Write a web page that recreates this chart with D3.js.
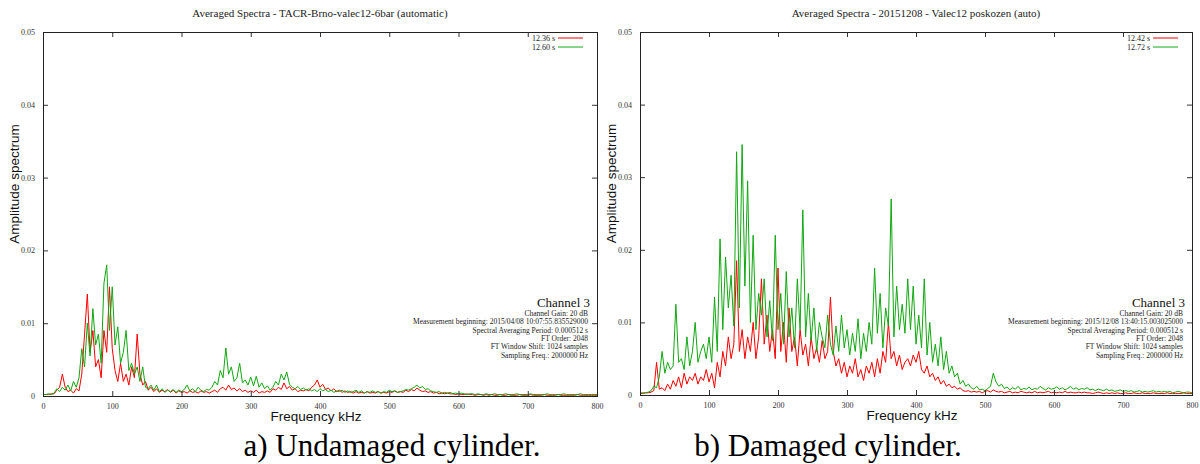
<!DOCTYPE html>
<html>
<head>
<meta charset="utf-8">
<script src="https://cdn.jsdelivr.net/npm/d3@7/dist/d3.min.js"></script>
<style>
  html, body { margin: 0; padding: 0; background: #fff; }
  svg { display: block; }
</style>
</head>
<body>
<svg id="chart" width="1200" height="464"></svg>
<script>
// ---------- DATA (frequency bins every 4 kHz, 0..800 kHz) ----------
const freqStepKHz = 4;
const freqMaxKHz = 800;
const xTicks = [0, 100, 200, 300, 400, 500, 600, 700, 800];
const yTicks = [0, 0.01, 0.02, 0.03, 0.04, 0.05];
const yTickLabels = ["0", "0.01", "0.02", "0.03", "0.04", "0.05"];

const titleA = "Averaged Spectra - TACR-Brno-valec12-6bar (automatic)";
const titleB = "Averaged Spectra - 20151208 - Valec12 poskozen (auto)";
const legendA = ["12.36 s", "12.60 s"];
const legendB = ["12.42 s", "12.72 s"];
const infoA = ["Channel Gain: 20 dB", "Measurement beginning: 2015/04/08 10:07:55.835529000",
  "Spectral Averaging Period: 0.000512 s", "FT Order: 2048", "FT Window Shift: 1024 samples",
  "Sampling Freq.: 2000000 Hz"];
const infoB = ["Channel Gain: 20 dB", "Measurement beginning: 2015/12/08 13:40:15.003025000",
  "Spectral Averaging Period: 0.000512 s", "FT Order: 2048", "FT Window Shift: 1024 samples",
  "Sampling Freq.: 2000000 Hz"];
const captions = ["a) Undamaged cylinder.", "b) Damaged cylinder."];

// a) undamaged, 12.36 s (red)
const undamagedRed = [
0.0002,0.0002,0.0002,0.0003,0.0003,0.0008,0.0012,0.0030,0.0012,0.0006,
0.0008,0.0004,0.0010,0.0007,0.0030,0.0085,0.0140,0.0060,0.0090,0.0040,
0.0050,0.0025,0.0090,0.0060,0.0150,0.0065,0.0035,0.0020,0.0045,0.0020,
0.0030,0.0015,0.0040,0.0025,0.0085,0.0030,0.0015,0.0020,0.0008,0.0012,
0.0006,0.0010,0.0005,0.0008,0.0006,0.0009,0.0005,0.0008,0.0004,0.0007,
0.0005,0.0006,0.0004,0.0007,0.0005,0.0006,0.0004,0.0007,0.0005,0.0006,
0.0004,0.0006,0.0008,0.0005,0.0010,0.0012,0.0008,0.0015,0.0009,0.0011,
0.0007,0.0010,0.0006,0.0008,0.0005,0.0007,0.0005,0.0008,0.0004,0.0006,
0.0005,0.0007,0.0005,0.0010,0.0008,0.0012,0.0009,0.0018,0.0010,0.0013,
0.0008,0.0010,0.0006,0.0008,0.0007,0.0009,0.0007,0.0012,0.0015,0.0022,
0.0012,0.0016,0.0009,0.0011,0.0007,0.0010,0.0006,0.0008,0.0005,0.0007,
0.0005,0.0006,0.0004,0.0006,0.0004,0.0005,0.0004,0.0006,0.0004,0.0005,
0.0004,0.0006,0.0004,0.0005,0.0004,0.0006,0.0005,0.0007,0.0005,0.0006,
0.0005,0.0008,0.0006,0.0009,0.0007,0.0011,0.0008,0.0006,0.0007,0.0005,
0.0006,0.0004,0.0005,0.0003,0.0004,0.0003,0.0004,0.0003,0.0003,0.0002,
0.0003,0.0002,0.0002,0.0003,0.0002,0.0002,0.0001,0.0002,0.0002,0.0001,
0.0002,0.0001,0.0002,0.0001,0.0001,0.0002,0.0001,0.0001,0.0002,0.0001,
0.0001,0.0001,0.0002,0.0001,0.0001,0.0001,0.0002,0.0001,0.0001,0.0001,
0.0001,0.0002,0.0001,0.0001,0.0001,0.0001,0.0002,0.0001,0.0001,0.0001,
0.0001,0.0001,0.0001,0.0002,0.0001,0.0001,0.0001,0.0001,0.0001,0.0001,
0.0001];

// a) undamaged, 12.60 s (green)
const undamagedGreen = [
0.0002,0.0002,0.0003,0.0002,0.0004,0.0010,0.0006,0.0012,0.0008,0.0015,
0.0007,0.0020,0.0012,0.0025,0.0065,0.0040,0.0100,0.0055,0.0120,0.0070,
0.0085,0.0045,0.0155,0.0180,0.0090,0.0150,0.0070,0.0095,0.0045,0.0060,
0.0090,0.0035,0.0045,0.0030,0.0040,0.0020,0.0040,0.0012,0.0010,0.0015,
0.0008,0.0015,0.0006,0.0010,0.0005,0.0008,0.0006,0.0009,0.0005,0.0008,
0.0006,0.0009,0.0015,0.0007,0.0010,0.0006,0.0012,0.0008,0.0006,0.0009,
0.0008,0.0012,0.0020,0.0015,0.0035,0.0025,0.0066,0.0030,0.0040,0.0020,
0.0025,0.0045,0.0018,0.0022,0.0015,0.0026,0.0014,0.0027,0.0012,0.0018,
0.0010,0.0014,0.0008,0.0012,0.0020,0.0015,0.0030,0.0022,0.0033,0.0016,
0.0012,0.0010,0.0013,0.0009,0.0011,0.0008,0.0010,0.0007,0.0009,0.0006,
0.0010,0.0007,0.0009,0.0006,0.0008,0.0005,0.0007,0.0006,0.0008,0.0005,
0.0007,0.0005,0.0006,0.0008,0.0005,0.0007,0.0004,0.0006,0.0005,0.0007,
0.0005,0.0006,0.0004,0.0006,0.0005,0.0008,0.0006,0.0007,0.0005,0.0006,
0.0007,0.0009,0.0008,0.0010,0.0012,0.0015,0.0011,0.0013,0.0009,0.0010,
0.0007,0.0006,0.0005,0.0006,0.0004,0.0005,0.0004,0.0005,0.0003,0.0004,
0.0003,0.0004,0.0003,0.0002,0.0003,0.0003,0.0002,0.0003,0.0002,0.0002,
0.0003,0.0002,0.0002,0.0003,0.0002,0.0002,0.0002,0.0003,0.0002,0.0002,
0.0002,0.0003,0.0002,0.0002,0.0002,0.0002,0.0003,0.0002,0.0002,0.0002,
0.0002,0.0002,0.0003,0.0002,0.0002,0.0002,0.0002,0.0002,0.0003,0.0002,
0.0002,0.0002,0.0002,0.0002,0.0003,0.0002,0.0002,0.0002,0.0002,0.0002,
0.0002];

// b) damaged, 12.42 s (red)
const damagedRed = [
0.0002,0.0002,0.0003,0.0003,0.0004,0.0006,0.0045,0.0008,0.0010,0.0006,
0.0015,0.0008,0.0020,0.0012,0.0025,0.0010,0.0030,0.0015,0.0025,0.0020,
0.0030,0.0015,0.0025,0.0020,0.0035,0.0018,0.0030,0.0010,0.0045,0.0025,
0.0060,0.0040,0.0080,0.0050,0.0070,0.0185,0.0060,0.0090,0.0050,0.0080,
0.0060,0.0100,0.0050,0.0080,0.0160,0.0070,0.0110,0.0060,0.0090,0.0050,
0.0175,0.0060,0.0100,0.0045,0.0120,0.0060,0.0080,0.0040,0.0090,0.0055,
0.0070,0.0040,0.0080,0.0050,0.0065,0.0045,0.0075,0.0050,0.0060,0.0135,
0.0060,0.0040,0.0050,0.0030,0.0045,0.0025,0.0040,0.0030,0.0050,0.0025,
0.0035,0.0020,0.0040,0.0030,0.0045,0.0025,0.0050,0.0030,0.0060,0.0045,
0.0100,0.0050,0.0060,0.0040,0.0055,0.0035,0.0045,0.0050,0.0040,0.0055,
0.0045,0.0060,0.0035,0.0030,0.0040,0.0025,0.0030,0.0020,0.0025,0.0015,
0.0020,0.0012,0.0015,0.0010,0.0012,0.0008,0.0010,0.0006,0.0005,0.0006,
0.0004,0.0005,0.0004,0.0005,0.0003,0.0005,0.0006,0.0004,0.0007,0.0005,
0.0004,0.0005,0.0003,0.0004,0.0005,0.0003,0.0004,0.0003,0.0005,0.0004,
0.0003,0.0004,0.0003,0.0005,0.0003,0.0004,0.0003,0.0004,0.0005,0.0003,
0.0004,0.0003,0.0004,0.0003,0.0005,0.0003,0.0004,0.0003,0.0003,0.0004,
0.0003,0.0004,0.0003,0.0003,0.0002,0.0003,0.0004,0.0003,0.0002,0.0003,
0.0002,0.0003,0.0002,0.0003,0.0002,0.0002,0.0003,0.0002,0.0002,0.0003,
0.0002,0.0002,0.0003,0.0002,0.0002,0.0002,0.0003,0.0002,0.0002,0.0002,
0.0002,0.0003,0.0002,0.0002,0.0002,0.0002,0.0002,0.0003,0.0002,0.0002,
0.0002];

// b) damaged, 12.72 s (green)
const damagedGreen = [
0.0003,0.0003,0.0003,0.0004,0.0006,0.0012,0.0010,0.0025,0.0060,0.0030,
0.0045,0.0035,0.0040,0.0125,0.0045,0.0050,0.0035,0.0080,0.0040,0.0060,
0.0100,0.0045,0.0060,0.0070,0.0050,0.0080,0.0045,0.0135,0.0060,0.0215,
0.0090,0.0190,0.0120,0.0165,0.0095,0.0335,0.0120,0.0345,0.0150,0.0295,
0.0100,0.0220,0.0090,0.0140,0.0110,0.0160,0.0080,0.0130,0.0075,0.0220,
0.0090,0.0140,0.0070,0.0170,0.0080,0.0120,0.0065,0.0160,0.0090,0.0255,
0.0080,0.0140,0.0075,0.0120,0.0060,0.0100,0.0080,0.0065,0.0110,0.0070,
0.0055,0.0095,0.0060,0.0110,0.0065,0.0090,0.0055,0.0085,0.0060,0.0105,
0.0050,0.0085,0.0060,0.0100,0.0070,0.0175,0.0085,0.0140,0.0065,0.0120,
0.0095,0.0270,0.0080,0.0150,0.0090,0.0125,0.0085,0.0160,0.0090,0.0150,
0.0070,0.0110,0.0065,0.0160,0.0055,0.0100,0.0045,0.0070,0.0040,0.0080,
0.0035,0.0060,0.0030,0.0040,0.0025,0.0030,0.0015,0.0020,0.0012,0.0015,
0.0010,0.0008,0.0012,0.0007,0.0008,0.0006,0.0009,0.0012,0.0030,0.0018,
0.0012,0.0015,0.0009,0.0011,0.0007,0.0010,0.0008,0.0012,0.0007,0.0009,
0.0008,0.0011,0.0007,0.0009,0.0008,0.0012,0.0009,0.0007,0.0010,0.0008,
0.0009,0.0011,0.0008,0.0010,0.0007,0.0009,0.0012,0.0008,0.0010,0.0007,
0.0009,0.0008,0.0010,0.0007,0.0008,0.0006,0.0008,0.0007,0.0006,0.0008,
0.0006,0.0007,0.0005,0.0006,0.0007,0.0005,0.0006,0.0005,0.0006,0.0004,
0.0005,0.0006,0.0004,0.0005,0.0004,0.0005,0.0006,0.0004,0.0005,0.0004,
0.0005,0.0004,0.0005,0.0003,0.0004,0.0005,0.0004,0.0003,0.0004,0.0004,
0.0003];

// ---------- DRAWING ----------
const svg = d3.select("#chart");
const SERIF = "'Liberation Serif', 'Times New Roman', serif";
const SANS = "'Liberation Sans', Arial, sans-serif";
const RED = "#ff0000";
const GREEN = "#10a810";

function drawPanel(p) {
  const g = svg.append("g");
  const x = d3.scaleLinear().domain([0, freqMaxKHz]).range([p.left, p.right]);
  const y = d3.scaleLinear().domain([0, 0.05]).range([p.bottom, p.top]);

  // title
  g.append("text").attr("x", (p.left + p.right) / 2).attr("y", 17)
    .attr("text-anchor", "middle").style("font-family", SERIF).style("font-size", "11px")
    .attr("fill", "#222").text(p.title);

  // series
  const line = d3.line().x((d, i) => x(i * freqStepKHz)).y(d => y(d));
  const clipId = "clip" + p.id;
  g.append("clipPath").attr("id", clipId).append("rect")
    .attr("x", p.left).attr("y", p.top).attr("width", p.right - p.left).attr("height", p.bottom - p.top);
  [[p.red, RED], [p.green, GREEN]].forEach(([data, col]) => {
    g.append("path").datum(data).attr("d", line).attr("fill", "none")
      .attr("stroke", col).attr("stroke-width", 1).attr("stroke-linejoin", "round")
      .attr("clip-path", `url(#${clipId})`);
  });

  // axes with inward ticks (mirrored)
  const tk = 5;
  const axB = d3.axisBottom(x).tickValues(xTicks).tickSize(-tk).tickPadding(7).tickFormat(d3.format("d"));
  const axT = d3.axisTop(x).tickValues(xTicks).tickSize(-tk).tickFormat("");
  const axL = d3.axisLeft(y).tickValues(yTicks).tickSize(-tk).tickPadding(8)
    .tickFormat((d, i) => yTickLabels[i]);
  const axR = d3.axisRight(y).tickValues(yTicks).tickSize(-tk).tickFormat("");
  const axes = [
    g.append("g").attr("transform", `translate(0,${p.bottom})`).call(axB),
    g.append("g").attr("transform", `translate(0,${p.top})`).call(axT),
    g.append("g").attr("transform", `translate(${p.left},0)`).call(axL),
    g.append("g").attr("transform", `translate(${p.right},0)`).call(axR)
  ];
  axes.forEach(a => {
    a.select(".domain").remove();
    a.selectAll(".tick line").attr("stroke", "#333");
    a.selectAll("text").style("font-family", SERIF).style("font-size", "8px").attr("fill", "#333");
  });

  // frame
  g.append("rect").attr("x", p.left + 0.5).attr("y", p.top + 0.5)
    .attr("width", p.right - p.left).attr("height", p.bottom - p.top)
    .attr("fill", "none").attr("stroke", "#222").attr("stroke-width", 1);

  // axis labels
  g.append("text").attr("x", (p.left + p.right) / 2 - 4).attr("y", p.bottom + 25)
    .attr("text-anchor", "middle").style("font-family", SANS).style("font-size", "13.5px")
    .attr("fill", "#111").text("Frequency kHz");
  g.append("text").attr("transform", `translate(${p.left - 24},${(p.top + p.bottom) / 2 - 30}) rotate(-90)`)
    .attr("text-anchor", "middle").style("font-family", SANS).style("font-size", "13.5px")
    .attr("fill", "#111").text("Amplitude spectrum");

  // legend
  p.legend.forEach((lab, i) => {
    const ly = p.top + 6 + i * 9;
    g.append("text").attr("x", p.right - 42).attr("y", ly + 2.5).attr("text-anchor", "end")
      .style("font-family", SERIF).style("font-size", "8px").attr("fill", "#222").text(lab);
    g.append("line").attr("x1", p.right - 39).attr("x2", p.right - 14).attr("y1", ly).attr("y2", ly)
      .attr("stroke", i === 0 ? RED : GREEN).attr("stroke-width", 1);
  });

  // info block
  g.append("text").attr("x", p.right - 7).attr("y", 307).attr("text-anchor", "end")
    .style("font-family", SERIF).style("font-size", "13px").attr("fill", "#111").text("Channel 3");
  p.info.forEach((t, i) => {
    g.append("text").attr("x", p.right - 9).attr("y", 316 + i * 8.3).attr("text-anchor", "end")
      .style("font-family", SERIF).style("font-size", "7.5px").attr("fill", "#222").text(t);
  });

  // caption
  svg.append("text").attr("x", p.capX).attr("y", 456).attr("text-anchor", "middle")
    .style("font-family", SERIF).style("font-size", "31px").attr("fill", "#000").text(p.caption);
}

drawPanel({ id: "a", left: 43, right: 597, top: 32, bottom: 396, title: titleA,
  red: undamagedRed, green: undamagedGreen, legend: legendA, info: infoA,
  caption: captions[0], capX: 392 });
drawPanel({ id: "b", left: 640, right: 1192, top: 32, bottom: 395, title: titleB,
  red: damagedRed, green: damagedGreen, legend: legendB, info: infoB,
  caption: captions[1], capX: 828 });
</script>
</body>
</html>
